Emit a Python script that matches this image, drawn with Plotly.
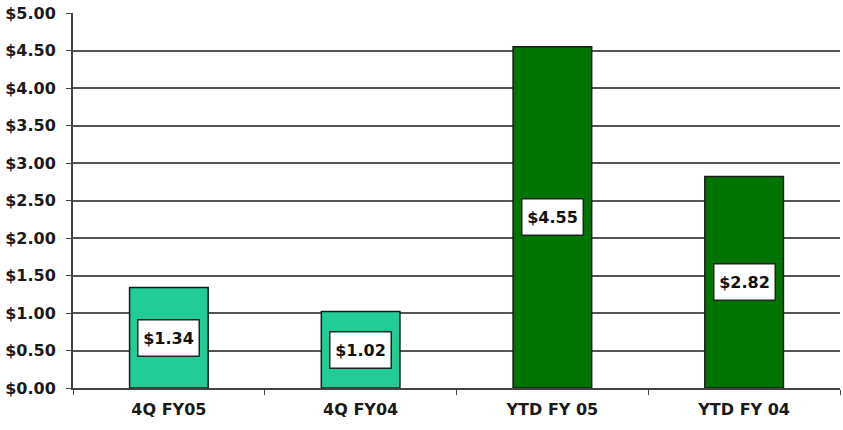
import plotly.graph_objects as go

categories = ["4Q FY05", "4Q FY04", "YTD FY 05", "YTD FY 04"]
values = [1.34, 1.02, 4.55, 2.82]
bar_colors = ["#22CC96", "#22CC96", "#007400", "#007400"]
label_texts = ["$1.34", "$1.02", "$4.55", "$2.82"]
y_ticks = [0, 0.5, 1, 1.5, 2, 2.5, 3, 3.5, 4, 4.5, 5]
y_tick_labels = ["$%.2f" % v for v in y_ticks]

font_family = "DejaVu Sans"

fig = go.Figure()
fig.add_trace(go.Bar(
    x=categories, y=values,
    marker=dict(color=bar_colors, line=dict(color="#1a1a1a", width=1.5)),
    width=0.41,
    hoverinfo="skip",
))

for c, v, t in zip(categories, values, label_texts):
    fig.add_annotation(
        x=c, y=v / 2, text="<b>%s</b>" % t, showarrow=False,
        font=dict(family=font_family, size=16, color="#111111"),
        bgcolor="white", bordercolor="#222222", borderwidth=1.5, borderpad=2,
        width=56, height=31,
    )

fig.update_layout(
    width=843, height=430,
    margin=dict(l=73, r=3, t=13, b=42),
    paper_bgcolor="white", plot_bgcolor="white",
    showlegend=False,
    font=dict(family=font_family, color="#1a1a1a"),
)
fig.update_xaxes(
    type="category",
    tickfont=dict(family=font_family, size=16, color="#1a1a1a", weight="bold"),
    showline=True, linecolor="#444444", linewidth=2,
    ticks="outside", ticklen=5, tickcolor="#444444", tickson="boundaries",
    ticklabelstandoff=6,
    showgrid=False,
)
fig.update_yaxes(
    range=[0, 5], tickvals=y_ticks, ticktext=y_tick_labels,
    tickfont=dict(family=font_family, size=16, color="#1a1a1a", weight="bold"),
    showline=True, linecolor="#444444", linewidth=2,
    ticks="outside", ticklen=5, tickcolor="#444444",
    ticklabelstandoff=7,
    showgrid=True, gridcolor="#555555", gridwidth=2,
    zeroline=False,
)

fig.write_html("out.html")
